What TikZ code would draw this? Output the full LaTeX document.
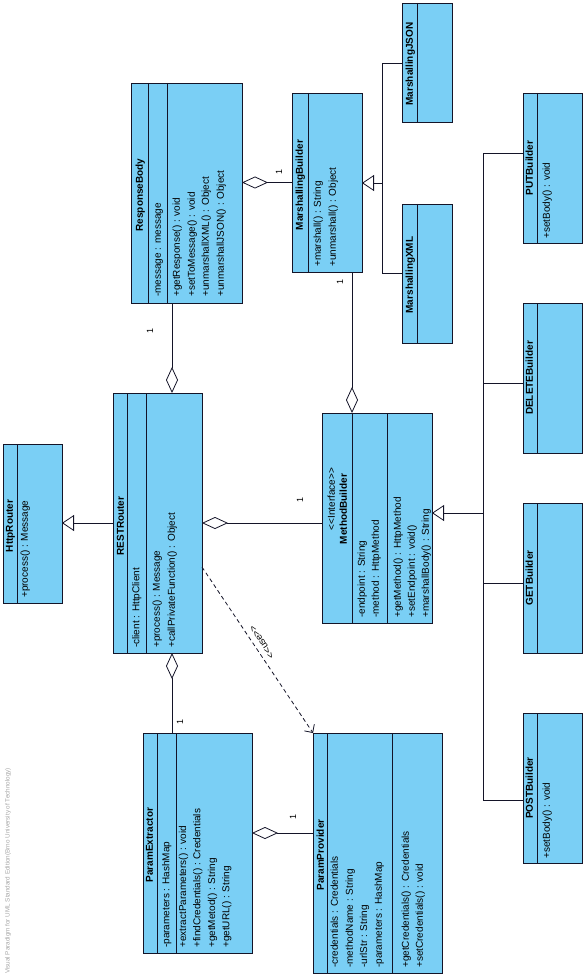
\documentclass[tikz,border=0pt]{standalone}
\usepackage{fontspec}
\setmainfont{Liberation Sans}
\usetikzlibrary{arrows.meta,fit,calc}
\definecolor{vpblue}{RGB}{122,207,245}
\definecolor{vpline}{RGB}{20,20,40}
\newcommand\clsbox[5]{\node[cls, fit={(#2,#3) (#4,#5)}] (#1) {};}
\newcommand\mline[4]{\node[txt, anchor=west] (#1) at (#2,#3) {#4};}
\newcommand\mname[4]{\node[nm] (#1) at (#2,#3) {#4};}
\newcommand\vdiv[3]{\draw[divl] (#1,#2) -- (#1,#3);}
\newcommand\ltlt{<\kern0pt<}
\newcommand\gtgt{>\kern0pt>}
\begin{document}
\begin{tikzpicture}[x=1pt,y=-1pt,
  cls/.style={draw=vpline, fill=vpblue, line width=0.8pt, inner sep=0pt, outer sep=0pt, rectangle},
  divl/.style={draw=vpline, line width=0.8pt},
  txt/.style={rotate=90, inner sep=0pt, font=\fontsize{10}{12}\selectfont, text height=7.5pt, text depth=2pt},
  nm/.style={txt, font=\fontsize{10}{12}\selectfont\bfseries},
  mult/.style={rotate=90, inner sep=0pt, font=\fontsize{9}{10}\selectfont},
  conn/.style={draw=vpline, line width=0.8pt},
  agg/.style={conn, {Diamond[fill=white,length=26pt,width=12pt]}-},
  gen/.style={conn, -{Triangle[fill=white,length=12pt,width=16pt]}},
  dep/.style={conn, dash pattern=on 4pt off 3pt, -{Straight Barb[length=6pt,width=12pt]}},
]
\useasboundingbox (0,0) rectangle (586,976);

% ---------- ResponseBody
\clsbox{rb}{131}{83}{242}{303}
\vdiv{148}{83}{303}\vdiv{167}{83}{303}
\mname{rbn}{140}{195}{ResponseBody}
\mline{rba1}{158}{297}{-message : message}
\mline{rbo1}{177}{297}{+getResponse() : void}
\mline{rbo2}{192}{297}{+setToMessage() : void}
\mline{rbo3}{206}{297}{+unmarshallXML() : Object}
\mline{rbo4}{221}{297}{+unmarshallJSON() : Object}

% ---------- MarshallingBuilder
\clsbox{mb}{292}{93}{362}{272}
\vdiv{308}{93}{272}
\mname{mbn}{300}{185}{MarshallingBuilder}
\mline{mbo1}{318}{267}{+marshall() : String}
\mline{mbo2}{333}{267}{+unmarshall() : Object}

% ---------- MarshallingJSON / XML
\clsbox{json}{402}{3}{452}{122}
\vdiv{417}{3}{122}
\mname{jsonn}{410}{64}{MarshallingJSON}
\clsbox{xml}{402}{204}{452}{343}
\vdiv{417}{204}{343}
\mname{xmln}{410}{275}{MarshallingXML}

% ---------- Builders
\clsbox{put}{523}{93}{582}{243}
\vdiv{537}{93}{243}
\mname{putn}{530}{168}{PUTBuilder}
\mline{puto1}{547}{239}{+setBody() : void}

\clsbox{del}{523}{303}{582}{453}
\vdiv{537}{303}{453}
\mname{deln}{530}{378}{DELETEBuilder}

\clsbox{get}{523}{503}{582}{653}
\vdiv{537}{503}{653}
\mname{getn}{530}{578}{GETBuilder}

\clsbox{post}{523}{713}{582}{863}
\vdiv{537}{713}{863}
\mname{postn}{530}{788}{POSTBuilder}
\mline{posto1}{547}{859}{+setBody() : void}

% ---------- HttpRouter
\clsbox{hr}{3}{444}{62}{603}
\vdiv{17}{444}{603}
\mname{hrn}{10}{526}{HttpRouter}
\mline{hro1}{25}{598}{+process() : Message}

% ---------- RESTRouter
\clsbox{rr}{113}{393}{202}{653}
\vdiv{127}{393}{653}\vdiv{146}{393}{653}
\mname{rrn}{121}{526}{RESTRouter}
\mline{rra1}{136.5}{648}{-client : HttpClient}
\mline{rro1}{157}{648}{+process() : Message}
\mline{rro2}{172}{648}{+callPrivateFunction() : Object}

% ---------- MethodBuilder
\clsbox{meth}{322}{413}{432}{623}
\vdiv{352}{413}{623}\vdiv{387}{413}{623}
\node[txt] (methst) at (332,499) {\ltlt Interface\gtgt};
\mname{methn}{344}{509}{MethodBuilder}
\mline{metha1}{362}{618}{-endpoint : String}
\mline{metha2}{376}{618}{-method : HttpMethod}
\mline{metho1}{398}{618}{+getMethod() : HttpMethod}
\mline{metho2}{412}{618}{+setEndpoint : void()}
\mline{metho3}{426}{618}{+marshallBody() : String}

% ---------- ParamExtractor
\clsbox{pe}{143}{733}{252}{953}
\vdiv{157}{733}{953}\vdiv{176}{733}{953}
\mname{pen}{150}{845}{ParamExtractor}
\mline{pea1}{166.7}{948}{-parameters : HashMap}
\mline{peo1}{183.3}{948}{+extractParameters() : void}
\mline{peo2}{197.7}{948}{+findCredentials() : Credentials}
\mline{peo3}{212.3}{948}{+getMetod() : String}
\mline{peo4}{226.7}{948}{+getURL() : String}

% ---------- ParamProvider
\clsbox{pp}{313}{733}{442}{973}
\vdiv{327}{733}{973}\vdiv{392}{733}{973}
\mname{ppn}{321}{855}{ParamProvider}
\mline{ppa1}{335}{968}{-credentials : Credentials}
\mline{ppa2}{350}{968}{-methodName : String}
\mline{ppa3}{364.3}{968}{-urlStr : String}
\mline{ppa4}{379}{968}{-parameters : HashMap}
\mline{ppo1}{406}{968}{+getCredentials() : Credentials}
\mline{ppo2}{420}{968}{+setCredentials() : void}

% ---------- helper coordinates
\coordinate (x172) at (172,0);
\coordinate (x352) at (352,0);
\coordinate (y833) at (0,833);
\coordinate (y567) at (0,567);
\coordinate (busT) at (483,153);
\coordinate (bDel) at (483,383);
\coordinate (bGet) at (483,583);
\coordinate (busB) at (483,800);
\coordinate (bMeth) at (483,513);
\coordinate (mT) at (382,63);
\coordinate (mM) at (382,183);
\coordinate (mB) at (382,273);

% ---------- builder generalization tree
\draw[conn] (put.west |- busT) -- (busT) -- (busB) -- (post.west |- busB);
\draw[conn] (bDel) -- (del.west |- bDel);
\draw[conn] (bGet) -- (get.west |- bGet);
\draw[gen] (bMeth) -- (meth.east |- bMeth);

% ---------- marshalling generalization tree
\draw[conn] (json.west |- mT) -- (mT) -- (mB) -- (xml.west |- mB);
\draw[gen] (mM) -- (mb.east |- mM);

% ---------- aggregations
\draw[agg] (rb.east |- mb.west) -- (mb.west);
\draw[agg] (x172 |- rr.north) -- (x172 |- rb.south);
\draw[agg] (x352 |- meth.north) -- (x352 |- mb.south);
\draw[agg] (rr.east) -- (meth.west |- rr.east);
\draw[agg] (x172 |- rr.south) -- (x172 |- pe.north);
\draw[agg] (pe.east |- y833) -- (pp.west |- y833);

% ---------- generalization RESTRouter -> HttpRouter
\draw[gen] (rr.west) -- (hr.east |- rr.west);

% ---------- dependency
\draw[dep] (rr.east |- y567) -- (pp.north west);
\node[mult, rotate=33, font=\fontsize{9.5}{11}\selectfont] (uselbl) at (262,642) {\ltlt use\gtgt};

% ---------- multiplicities
\node[mult] (m1) at (279,172) {1};
\node[mult] (m2) at (150,331) {1};
\node[mult] (m3) at (340,282) {1};
\node[mult] (m4) at (300,500) {1};
\node[mult] (m5) at (180,722) {1};
\node[mult] (m6) at (293,817) {1};

% ---------- watermark
\node[rotate=90, anchor=west, inner sep=0pt, font=\fontsize{6.3}{7}\selectfont, text=gray!70] (wm) at (8,974) {Visual Paradigm for UML Standard Edition(Brno University of Technology)};
\end{tikzpicture}
\end{document}
